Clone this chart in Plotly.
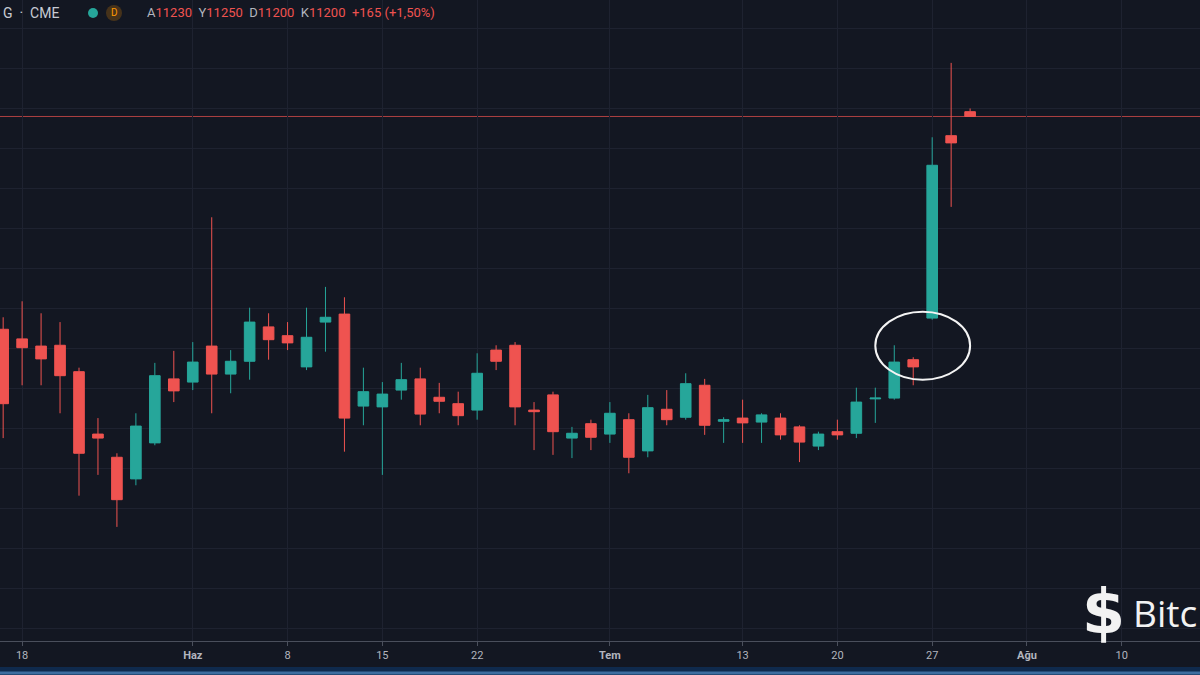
import plotly.graph_objects as go

# ---------------- data (CME BTC futures, daily, trading days only) ----------------
dates = [
    "2020-05-15", "2020-05-18", "2020-05-19", "2020-05-20", "2020-05-21", "2020-05-22",
    "2020-05-26", "2020-05-27", "2020-05-28", "2020-05-29",
    "2020-06-01", "2020-06-02", "2020-06-03", "2020-06-04", "2020-06-05",
    "2020-06-08", "2020-06-09", "2020-06-10", "2020-06-11", "2020-06-12",
    "2020-06-15", "2020-06-16", "2020-06-17", "2020-06-18", "2020-06-19",
    "2020-06-22", "2020-06-23", "2020-06-24", "2020-06-25", "2020-06-26",
    "2020-06-29", "2020-06-30",
    "2020-07-01", "2020-07-02",
    "2020-07-06", "2020-07-07", "2020-07-08", "2020-07-09", "2020-07-10",
    "2020-07-13", "2020-07-14", "2020-07-15", "2020-07-16", "2020-07-17",
    "2020-07-20", "2020-07-21", "2020-07-22", "2020-07-23", "2020-07-24",
    "2020-07-27", "2020-07-28", "2020-07-29",
]
opens = [9870, 9810, 9765, 9770, 9605, 9215, 9070, 8935, 9160, 9560,
         9540, 9765, 9590, 9670, 9885, 9830, 9635, 9915, 9965, 9390, 9385, 9490,
         9560, 9445, 9405, 9365, 9740, 9770, 9365, 9460, 9190, 9280,
         9215, 9305, 9110, 9370, 9320, 9520, 9295, 9315, 9290, 9315, 9260, 9140,
         9230, 9220, 9435, 9440, 9680, 9940, 11080, 11230]
highs = [9945, 10045, 9970, 9915, 9630, 9315, 9095, 9345, 9660, 9735,
         9790, 10570, 9740, 10005, 9970, 9915, 10005, 10135, 10070, 9630, 9540, 9660,
         9630, 9535, 9480, 9720, 9770, 9790, 9415, 9480, 9260, 9305,
         9415, 9345, 9460, 9490, 9595, 9560, 9320, 9430, 9345, 9345, 9270, 9230,
         9305, 9505, 9505, 9770, 9695, 11070, 11535, 11250]
lows = [9190, 9520, 9520, 9345, 8830, 8960, 8635, 8895, 9145, 9415,
        9490, 9345, 9470, 9555, 9680, 9740, 9615, 9730, 9105, 9270, 8960, 9430,
        9270, 9345, 9270, 9305, 9615, 9270, 9115, 9085, 9065, 9115,
        9160, 8970, 9070, 9270, 9305, 9210, 9160, 9160, 9160, 9180, 9040, 9115,
        9180, 9190, 9285, 9430, 9520, 9930, 10635, 11200]
closes = [9405, 9755, 9685, 9580, 9095, 9190, 8805, 9265, 9580, 9485,
          9665, 9590, 9670, 9915, 9805, 9785, 9820, 9945, 9315, 9480, 9465, 9555,
          9340, 9420, 9330, 9595, 9670, 9385, 9355, 9230, 9220, 9195,
          9345, 9070, 9380, 9305, 9530, 9270, 9305, 9285, 9335, 9210, 9165, 9215,
          9210, 9415, 9440, 9665, 9635, 10895, 11035, 11200]

holidays = ["2020-05-25", "2020-07-03"]
tick_dates = ["2020-05-18", "2020-06-01", "2020-06-08", "2020-06-15", "2020-06-22",
              "2020-07-01", "2020-07-13", "2020-07-20", "2020-07-27", "2020-08-03",
              "2020-08-10"]
tick_labels = ["18", "<b>Haz</b>", "8", "15", "22", "<b>Tem</b>", "13", "20", "27",
               "<b>Ağu</b>", "10"]

# ---------------- styling ----------------
W, H = 1200, 675
PLOT_H = 641
BG = "#131722"
GREEN = "#26a69a"
RED = "#ef5350"
GRID = "#1e2230"
LBL = "#b2b5be"
FONT = "Roboto, Arial, sans-serif"


def px(x):
    return x / W


def py(y):
    return (PLOT_H - y) / PLOT_H


fig = go.Figure(go.Candlestick(
    x=dates, open=opens, high=highs, low=lows, close=closes,
    increasing=dict(line=dict(color=GREEN, width=1), fillcolor=GREEN),
    decreasing=dict(line=dict(color=RED, width=1), fillcolor=RED),
    whiskerwidth=0, showlegend=False, hoverinfo="skip",
))

# header text from last bar
chg = closes[-1] - closes[-2]
pct = chg / closes[-2] * 100
pct_txt = f"{pct:+.2f}".replace(".", ",")
sp = "\u00a0\u00a0"
header = (
    f"<span style='color:{LBL}'>A</span><span style='color:{RED}'>{opens[-1]}</span>{sp}"
    f"<span style='color:{LBL}'>Y</span><span style='color:{RED}'>{highs[-1]}</span>{sp}"
    f"<span style='color:{LBL}'>D</span><span style='color:{RED}'>{lows[-1]}</span>{sp}"
    f"<span style='color:{LBL}'>K</span><span style='color:{RED}'>{closes[-1]}</span>{sp}"
    f"<span style='color:{RED}'>{chg:+d} ({pct_txt}%)</span>"
)

annotations = [
    dict(text="G\u00a0\u00a0·\u00a0\u00a0CME", x=px(1), y=py(13), xref="paper", yref="paper",
         xanchor="left", yanchor="middle", showarrow=False,
         font=dict(family=FONT, size=14, color="#c8cbd3")),
    dict(text="D", x=px(114), y=py(13), xref="paper", yref="paper",
         xanchor="center", yanchor="middle", showarrow=False,
         font=dict(family=FONT, size=10, color="#ff9800")),
    dict(text=header, x=px(145), y=py(13), xref="paper", yref="paper",
         xanchor="left", yanchor="middle", showarrow=False,
         font=dict(family=FONT, size=13, color=RED)),
    # watermark logo
    dict(text="<b>$</b>", x=px(1103), y=py(611), xref="paper", yref="paper",
         xanchor="center", yanchor="middle", showarrow=False,
         font=dict(family="DejaVu Sans", size=62, color="#f2f2f2")),
    dict(text="Bitc", x=px(1131), y=py(612), xref="paper", yref="paper",
         xanchor="left", yanchor="middle", showarrow=False,
         font=dict(family="Open Sans", size=37, color="#f2f2f2")),
]

shapes = [
    # last price line
    dict(type="line", xref="paper", x0=0, x1=1, yref="y", y0=closes[-1], y1=closes[-1],
         line=dict(color="rgba(239,83,80,0.7)", width=1), layer="below"),
    # hand-drawn highlight circle
    dict(type="circle", xref="x", yref="y", x0="2020-07-22", x1="2020-07-29",
         y0=9555, y1=9980, line=dict(color="#f4f4f4", width=2)),
    # header badges
    dict(type="circle", xref="paper", yref="paper", x0=px(88), x1=px(98),
         y0=py(18), y1=py(8), fillcolor=GREEN, line=dict(width=0)),
    dict(type="circle", xref="paper", yref="paper", x0=px(106), x1=px(122),
         y0=py(21), y1=py(5), fillcolor="rgba(255,152,0,0.22)", line=dict(width=0)),
    # bottom blue strip
    dict(type="rect", xref="paper", yref="paper", x0=0, x1=1, y0=py(667), y1=py(680),
         fillcolor="#0f2a4d", line=dict(width=0)),
    dict(type="rect", xref="paper", yref="paper", x0=0, x1=1, y0=py(671.5), y1=py(674.5),
         fillcolor="#3d6d9f", line=dict(width=0)),
]

fig.update_layout(
    width=W, height=H,
    margin=dict(l=0, r=0, t=0, b=H - PLOT_H),
    paper_bgcolor=BG, plot_bgcolor=BG,
    boxgap=0.2,
    showlegend=False,
    annotations=annotations,
    shapes=shapes,
    xaxis=dict(
        type="date",
        range=["2020-05-14 20:00", "2020-08-14 03:00"],
        rangebreaks=[dict(bounds=["sat", "mon"]), dict(values=holidays)],
        rangeslider=dict(visible=False),
        tickmode="array", tickvals=tick_dates, ticktext=tick_labels,
        ticks="outside", ticklen=4, tickcolor="#4a4f5c",
        showline=True, linecolor="#4a4f5c", linewidth=1,
        showgrid=True, gridcolor=GRID, gridwidth=1,
        tickfont=dict(family=FONT, size=11, color=LBL),
        zeroline=False, fixedrange=True,
    ),
    yaxis=dict(
        range=[11928 - PLOT_H * 6.25, 11928],
        tick0=0, dtick=250,
        showticklabels=False, ticks="",
        showgrid=True, gridcolor=GRID, gridwidth=1,
        zeroline=False, showline=False, fixedrange=True,
    ),
)

fig.write_html(
    "out.html",
    config={"displayModeBar": False},
    post_script="document.body.style.margin='0';document.body.style.padding='0';"
                "document.body.style.background='#131722';document.body.style.overflow='hidden';",
)
